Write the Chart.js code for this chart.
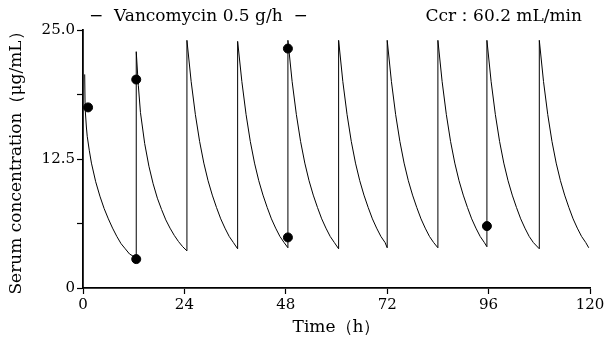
<!DOCTYPE html>
<html>
<head>
<meta charset="utf-8">
<script src="https://cdn.jsdelivr.net/npm/chart.js@4/dist/chart.umd.min.js"></script>
<style>
  html, body { margin: 0; padding: 0; background: #fff; }
  #wrap { width: 610px; height: 344px; }
</style>
</head>
<body>
<div id="wrap"><canvas id="vcm"></canvas></div>
<script>
// courbe simulée (h, µg/mL), une ligne par dose
var curveTimes = [
  0.4, 0.5, 0.8, 1, 1.5, 2, 3, 4, 5, 6, 7, 8, 9, 10, 11, 12.6,
  12.6, 13.1, 13.6, 14.6, 15.6, 16.6, 17.6, 18.6, 19.6, 20.6, 21.6, 22.6, 23.6, 24.6,
  24.6, 25.6, 26.6, 27.6, 28.6, 29.6, 30.6, 31.6, 32.6, 33.6, 34.6, 35.6, 36.6,
  36.6, 37.6, 38.6, 39.6, 40.6, 41.6, 42.6, 43.6, 44.6, 45.6, 46.6, 47.6, 48.5,
  48.5, 49.5, 50.5, 51.5, 52.5, 53.5, 54.5, 55.5, 56.5, 57.5, 58.5, 59.5, 60.5,
  60.5, 61.5, 62.5, 63.5, 64.5, 65.5, 66.5, 67.5, 68.5, 69.5, 70.5, 71.5, 72.0,
  72.0, 73, 74, 75, 76, 77, 78, 79, 80, 81, 82, 83, 84.0,
  84.0, 85, 86, 87, 88, 89, 90, 91, 92, 93, 94, 95, 95.6,
  95.6, 96.6, 97.6, 98.6, 99.6, 100.6, 101.6, 102.6, 103.6, 104.6, 105.6, 106.6, 108.0,
  108.0, 109, 110, 111, 112, 113, 114, 115, 116, 117, 118, 119, 119.7
];
var curveConc = [
  20.7, 17.4, 15.6, 14.7, 13.3, 12.1, 10.3, 8.9, 7.7, 6.7, 5.8, 5.0, 4.3, 3.8, 3.3, 2.9,
  22.9, 19.6, 17.0, 14.0, 11.8, 10.1, 8.7, 7.6, 6.6, 5.8, 5.1, 4.5, 4.0, 3.6,
  24.0, 20.0, 16.8, 14.2, 12.1, 10.4, 9.0, 7.8, 6.7, 5.8, 5.0, 4.4, 3.8,
  23.9, 20.0, 16.8, 14.2, 12.1, 10.4, 9.0, 7.8, 6.7, 5.8, 5.0, 4.4, 3.9,
  24.0, 20.0, 16.8, 14.2, 12.1, 10.4, 9.0, 7.8, 6.7, 5.8, 5.0, 4.4, 3.8,
  24.0, 20.0, 16.8, 14.2, 12.1, 10.4, 9.0, 7.8, 6.7, 5.8, 5.0, 4.4, 3.9,
  24.0, 20.0, 16.8, 14.2, 12.1, 10.4, 9.0, 7.8, 6.7, 5.8, 5.0, 4.4, 3.9,
  24.0, 20.0, 16.8, 14.2, 12.1, 10.4, 9.0, 7.8, 6.7, 5.8, 5.0, 4.4, 4.0,
  24.0, 20.0, 16.8, 14.2, 12.1, 10.4, 9.0, 7.8, 6.7, 5.8, 5.0, 4.4, 3.8,
  24.0, 20.0, 16.8, 14.2, 12.1, 10.4, 9.0, 7.8, 6.7, 5.8, 5.0, 4.4, 3.9
];

// concentrations mesurées (points noirs)
var measTimes = [1.2, 12.6, 12.6, 48.5, 48.5, 95.6];
var measConc = [17.5, 20.2, 2.8, 23.2, 4.9, 6.0];

// graduations
var xTicks = [0, 24, 48, 72, 96, 120];
var yTicks = [0, 6.25, 12.5, 18.75, 25];
var yTickLabels = ['0', '', '12.5', '', '25.0'];

var headerLeft = '\u2212  Vancomycin 0.5 g/h  \u2212';
var headerRight = 'Ccr\uff1a60.2 mL/min';
var xTitle = 'Time\uff08h\uff09';
var yTitle = 'Serum concentration\uff08\u03bcg/mL\uff09';

var police = 'DejaVu Serif';

var curvePts = curveTimes.map(function (t, i) { return { x: t, y: curveConc[i] }; });
var measPts = measTimes.map(function (t, i) { return { x: t, y: measConc[i] }; });

// texte en haut du graphique
var enTete = {
  id: 'enTete',
  afterDraw: function (chart) {
    var c = chart.ctx;
    c.save();
    c.fillStyle = '#000';
    c.font = '17px "' + police + '"';
    c.textBaseline = 'middle';
    c.textAlign = 'left';
    c.fillText(headerLeft, 89, 17);
    c.textAlign = 'right';
    c.fillText(headerRight, 582, 17);
    c.restore();
  }
};

var ctx = document.getElementById('vcm').getContext('2d');
var vcmChart = new Chart(ctx, {
  type: 'scatter',
  data: {
    datasets: [{
      label: 'simulation',
      data: curvePts,
      showLine: true,
      borderColor: '#000',
      borderWidth: 1,
      pointRadius: 0,
      tension: 0
    }, {
      label: 'mesures',
      data: measPts,
      backgroundColor: '#000',
      borderColor: '#000',
      pointRadius: 4.5
    }]
  },
  options: {
    responsive: true,
    maintainAspectRatio: false,
    animation: false,
    layout: { padding: { top: 30, right: 20, left: 0, bottom: 0 } },
    plugins: {
      legend: { display: false },
      tooltip: { enabled: false }
    },
    scales: {
      x: {
        type: 'linear',
        min: 0,
        max: 120,
        afterBuildTicks: function (scale) {
          scale.ticks = xTicks.map(function (v) { return { value: v }; });
        },
        afterFit: function (scale) { scale.height = 56; },
        ticks: {
          color: '#000',
          font: { family: police, size: 15 },
          padding: 2,
          maxRotation: 0
        },
        grid: { drawOnChartArea: false, tickLength: 6, tickColor: '#000', tickWidth: 1.2 },
        border: { color: '#000', width: 1.8 },
        title: {
          display: true,
          text: xTitle,
          color: '#000',
          font: { family: police, size: 17 },
          padding: { top: 0, bottom: 6 }
        }
      },
      y: {
        min: 0,
        max: 25,
        afterBuildTicks: function (scale) {
          scale.ticks = yTicks.map(function (v) { return { value: v }; });
        },
        afterFit: function (scale) { scale.width = 83; },
        ticks: {
          color: '#000',
          font: { family: police, size: 15 },
          padding: 2,
          callback: function (v, i) { return yTickLabels[i]; }
        },
        grid: { drawOnChartArea: false, tickLength: 6, tickColor: '#000', tickWidth: 1.2 },
        border: { color: '#000', width: 1.8 },
        title: {
          display: true,
          text: yTitle,
          color: '#000',
          font: { family: police, size: 17 },
          padding: { top: 6, bottom: 0 }
        }
      }
    }
  },
  plugins: [enTete]
});
</script>
</body>
</html>
